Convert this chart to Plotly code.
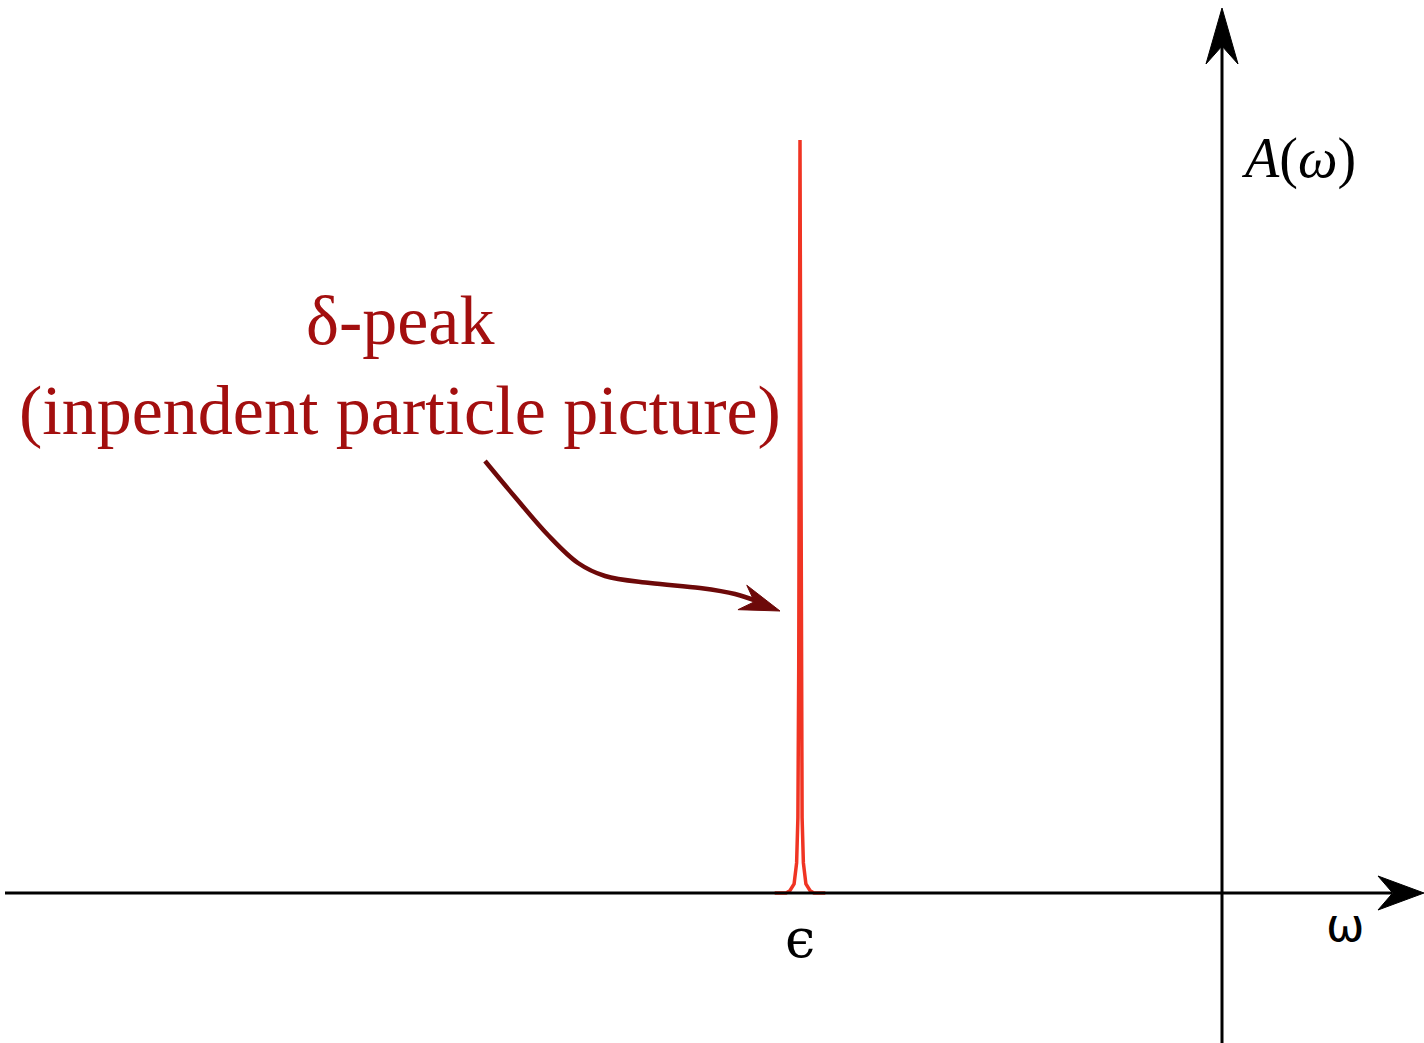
import plotly.graph_objects as go

# --- chart values -----------------------------------------------------------
# energy of the single-particle level (origin of the ω axis at 0)
epsilon = -1.0
peak_height = 1.0
# sampled δ-like peak: offsets from ε and spectral weight A(ω)
peak_offsets = [-0.060, -0.033, -0.024, -0.014, -0.008, -0.005, -0.003, -0.0015, 0.0,
                0.0015, 0.003, 0.005, 0.008, 0.014, 0.024, 0.033, 0.060]
peak_values = [0.0, 0.0, 0.003, 0.012, 0.04, 0.10, 0.30, 0.70, 1.0,
               0.70, 0.30, 0.10, 0.04, 0.012, 0.003, 0.0, 0.0]

label_top = "δ-peak"
label_bottom = "(inpendent particle picture)"

# --- canvas geometry ----------------------------------------------------------
W, H = 1424, 1043
X0_PX, Y0_PX = 1222, 893          # pixel position of the axes origin
X_SCALE, Y_SCALE = 422.0, 753.0   # pixels per data unit

def dx(px):
    return (px - X0_PX) / X_SCALE

def dy(py):
    return (Y0_PX - py) / Y_SCALE

x_range = [dx(0), dx(W)]
y_range = [dy(H), dy(0)]

def stealth_head(tip, direction, length, half_width, notch=0.68):
    """Closed SVG path (data coords) for a concave arrowhead; sizes in px."""
    tx, ty = tip
    ux, uy = direction
    n = (ux * ux + uy * uy) ** 0.5
    ux, uy = ux / n, uy / n
    nx, ny = -uy, ux
    pts = [
        (tx, ty),
        (tx - length * ux + half_width * nx, ty - length * uy + half_width * ny),
        (tx - notch * length * ux, ty - notch * length * uy),
        (tx - length * ux - half_width * nx, ty - length * uy - half_width * ny),
    ]
    return "M " + " L ".join(f"{dx(px):.5f},{dy(py):.5f}" for px, py in pts) + " Z"

fig = go.Figure()

# spectral function: a single sharp peak at ε
fig.add_trace(go.Scatter(
    x=[epsilon + o for o in peak_offsets],
    y=[v * peak_height for v in peak_values],
    mode="lines",
    line=dict(color="#f03423", width=3.5),
    hoverinfo="skip",
))

# curved pointer from the label to the peak
arrow_px = [(485, 461), (515, 497), (548, 535), (578, 563), (605, 576),
            (650, 583), (700, 588), (735, 594), (762, 603)]
fig.add_trace(go.Scatter(
    x=[dx(p[0]) for p in arrow_px],
    y=[dy(p[1]) for p in arrow_px],
    mode="lines",
    line=dict(color="#6d0909", width=4.5, shape="spline", smoothing=1.0),
    hoverinfo="skip",
))

shapes = [
    # ω axis
    dict(type="line", xref="x", yref="y", x0=dx(5), x1=dx(1392), y0=0, y1=0,
         line=dict(color="black", width=3)),
    dict(type="path", xref="x", yref="y", path=stealth_head((1424, 893), (1, 0), 46, 17),
         fillcolor="black", line=dict(color="black", width=1)),
    # A(ω) axis
    dict(type="line", xref="x", yref="y", x0=0, x1=0, y0=dy(1043), y1=dy(45),
         line=dict(color="black", width=3)),
    dict(type="path", xref="x", yref="y", path=stealth_head((1222, 8), (0, -1), 56, 16),
         fillcolor="black", line=dict(color="black", width=1)),
    # head of the curved pointer
    dict(type="path", xref="x", yref="y", path=stealth_head((780, 611), (1, 0.36), 40, 13),
         fillcolor="#6d0909", line=dict(color="#6d0909", width=1)),
]

annotations = [
    dict(x=dx(400), y=dy(320), text=label_top, showarrow=False,
         font=dict(family="Liberation Serif", size=70, color="#a30f0f")),
    dict(x=dx(400), y=dy(410), text=label_bottom, showarrow=False,
         font=dict(family="Liberation Serif", size=70, color="#a30f0f")),
    dict(x=dx(1298), y=dy(158), text="<i>A</i>(<i>ω</i>)", showarrow=False,
         font=dict(family="Liberation Serif", size=56, color="black")),
    dict(x=dx(1345), y=dy(925), text="ω", showarrow=False,
         font=dict(family="DejaVu Sans", size=46, color="black")),
    dict(x=epsilon, y=dy(938), text="ϵ", showarrow=False,
         font=dict(family="DejaVu Serif", size=54, color="black")),
]

fig.update_layout(
    width=W, height=H,
    margin=dict(l=0, r=0, t=0, b=0),
    paper_bgcolor="white", plot_bgcolor="white",
    showlegend=False,
    xaxis=dict(range=x_range, visible=False, fixedrange=True),
    yaxis=dict(range=y_range, visible=False, fixedrange=True),
    shapes=shapes,
    annotations=annotations,
)

fig.write_html("out.html")
